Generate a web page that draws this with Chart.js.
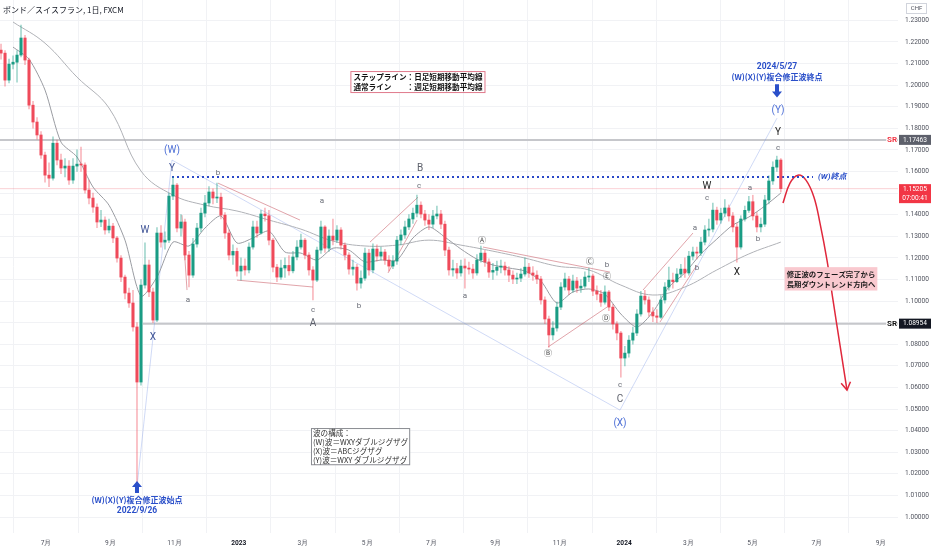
<!DOCTYPE html>
<html>
<head>
<meta charset="utf-8">
<title>ポンド／スイスフラン, 1日</title>
<script src="https://cdn.jsdelivr.net/npm/chart.js"></script>
<style>
  html, body { margin: 0; padding: 0; background: #fff; }
  #wrap { width: 932px; height: 550px; }
</style>
</head>
<body>
<div id="wrap"><canvas id="chart" width="932" height="550"></canvas></div>
<script>
// x = 月 (0 = 2022年1月)。ローソク足は startMonth から stepMonth ごと
const startMonth = 4.6;
const stepMonth = 0.1245;
const firstOpen = 1.2162;

const closes = [
  1.2148, 1.2023, 1.2097, 1.2106, 1.2139, 1.2218, 1.2116, 1.1907, 1.1829, 1.1769,
  1.1676, 1.1583, 1.1569, 1.1731, 1.1653, 1.1616, 1.1625, 1.1560, 1.1625, 1.1634,
  1.1630, 1.1514, 1.1477, 1.1435, 1.1366, 1.1375, 1.1329, 1.1347, 1.1292, 1.1199,
  1.1111, 1.1037, 1.0991, 1.0880, 1.0625, 1.1074, 1.1167, 1.1042, 1.0912, 1.1315,
  1.1273, 1.1282, 1.1486, 1.1537, 1.1338, 1.1366, 1.1213, 1.1120, 1.1264, 1.1338,
  1.1407, 1.1454, 1.1505, 1.1477, 1.1481, 1.1398, 1.1315, 1.1213, 1.1230, 1.1139,
  1.1162, 1.1144, 1.1250, 1.1343, 1.1315, 1.1403, 1.1395, 1.1282, 1.1157, 1.1111,
  1.1153, 1.1165, 1.1140, 1.1204, 1.1250, 1.1282, 1.1213, 1.1144, 1.1097, 1.1236,
  1.1343, 1.1245, 1.1301, 1.1282, 1.1329, 1.1259, 1.1213, 1.1148, 1.1157, 1.1083,
  1.1106, 1.1222, 1.1144, 1.1241, 1.1208, 1.1227, 1.1190, 1.1162, 1.1185, 1.1282,
  1.1306, 1.1343, 1.1380, 1.1407, 1.1444, 1.1403, 1.1375, 1.1356, 1.1394, 1.1403,
  1.1356, 1.1236, 1.1144, 1.1150, 1.1130, 1.1162, 1.1153, 1.1148, 1.1130, 1.1190,
  1.1222, 1.1181, 1.1134, 1.1142, 1.1157, 1.1162, 1.1144, 1.1120, 1.1102, 1.1106,
  1.1125, 1.1157, 1.1130, 1.1120, 1.1102, 1.1005, 1.0917, 1.0843, 1.0875, 1.0972,
  1.1065, 1.1102, 1.1051, 1.1093, 1.1060, 1.1069, 1.1111, 1.1116, 1.1046, 1.1032,
  1.0995, 1.1042, 1.0972, 1.0894, 1.0852, 1.0736, 1.0759, 1.0819, 1.0852, 1.0940,
  1.1023, 1.1005, 1.0949, 1.0931, 1.0925, 1.1005, 1.1065, 1.1097, 1.1090, 1.1125,
  1.1148, 1.1130, 1.1208, 1.1227, 1.1222, 1.1273, 1.1329, 1.1333, 1.1421, 1.1375,
  1.1407, 1.1431, 1.1394, 1.1343, 1.1250, 1.1380, 1.1420, 1.1460, 1.1394, 1.1343,
  1.1356, 1.1468, 1.1556, 1.1620, 1.1653, 1.15205
];
const highs = [
  1.2190, 1.2160, 1.2120, 1.2135, 1.2160, 1.2278, 1.2230, 1.2125, 1.1925, 1.1850,
  1.1785, 1.1690, 1.1640, 1.1760, 1.1745, 1.1680, 1.1660, 1.1650, 1.1660, 1.1700,
  1.1713, 1.1640, 1.1560, 1.1500, 1.1450, 1.1420, 1.1390, 1.1380, 1.1360, 1.1300,
  1.1210, 1.1120, 1.1060, 1.1050, 1.0900, 1.1100, 1.1270, 1.1190, 1.1060, 1.1340,
  1.1350, 1.1320, 1.1500, 1.1574, 1.1545, 1.1400, 1.1380, 1.1230, 1.1290, 1.1360,
  1.1430, 1.1490, 1.1530, 1.1520, 1.1546, 1.1500, 1.1410, 1.1330, 1.1260, 1.1245,
  1.1200, 1.1195, 1.1270, 1.1370, 1.1370, 1.1420, 1.1430, 1.1420, 1.1290, 1.1170,
  1.1190, 1.1200, 1.1210, 1.1230, 1.1280, 1.1310, 1.1290, 1.1225, 1.1160, 1.1250,
  1.1370, 1.1350, 1.1330, 1.1380, 1.1350, 1.1340, 1.1270, 1.1225, 1.1190, 1.1170,
  1.1140, 1.1245, 1.1240, 1.1265, 1.1260, 1.1250, 1.1240, 1.1210, 1.1210, 1.1300,
  1.1330, 1.1370, 1.1400, 1.1430, 1.1491, 1.1460, 1.1420, 1.1400, 1.1420, 1.1440,
  1.1420, 1.1370, 1.1250, 1.1190, 1.1175, 1.1190, 1.1195, 1.1180, 1.1170, 1.1215,
  1.1255, 1.1235, 1.1195, 1.1175, 1.1185, 1.1190, 1.1180, 1.1160, 1.1140, 1.1130,
  1.1150, 1.1200, 1.1175, 1.1160, 1.1140, 1.1115, 1.1020, 1.0930, 1.0905, 1.0995,
  1.1085, 1.1130, 1.1115, 1.1120, 1.1110, 1.1100, 1.1135, 1.1153, 1.1125, 1.1070,
  1.1050, 1.1070, 1.1050, 1.0985, 1.0905, 1.0860, 1.0790, 1.0840, 1.0880, 1.0960,
  1.1045, 1.1050, 1.1020, 1.0970, 1.0960, 1.1025, 1.1085, 1.1157, 1.1130, 1.1150,
  1.1170, 1.1200, 1.1230, 1.1250, 1.1250, 1.1295, 1.1350, 1.1380, 1.1454, 1.1435,
  1.1430, 1.1470, 1.1445, 1.1410, 1.1360, 1.1395, 1.1440, 1.1485, 1.1490, 1.1410,
  1.1385, 1.1490, 1.1580, 1.1645, 1.1671, 1.1660
];
const lows = [
  1.2120, 1.1995, 1.2010, 1.2075, 1.2014, 1.2130, 1.2095, 1.1890, 1.1800, 1.1750,
  1.1660, 1.1550, 1.1530, 1.1560, 1.1630, 1.1590, 1.1575, 1.1540, 1.1545, 1.1600,
  1.1600, 1.1500, 1.1450, 1.1410, 1.1340, 1.1345, 1.1310, 1.1315, 1.1270, 1.1180,
  1.1090, 1.1010, 1.0970, 1.0860, 1.0139, 1.0610, 1.1060, 1.1020, 1.0900, 1.0905,
  1.1250, 1.1240, 1.1270, 1.1470, 1.1320, 1.1300, 1.1190, 1.1065, 1.1110, 1.1250,
  1.1320, 1.1390, 1.1440, 1.1450, 1.1455, 1.1380, 1.1290, 1.1190, 1.1170, 1.1115,
  1.1097, 1.1120, 1.1130, 1.1240, 1.1295, 1.1310, 1.1370, 1.1260, 1.1135, 1.1090,
  1.1100, 1.1110, 1.1120, 1.1130, 1.1190, 1.1240, 1.1195, 1.1120, 1.1005, 1.1090,
  1.1220, 1.1225, 1.1230, 1.1260, 1.1270, 1.1240, 1.1190, 1.1125, 1.1120, 1.1050,
  1.1060, 1.1095, 1.1120, 1.1130, 1.1185, 1.1190, 1.1170, 1.1140, 1.1150, 1.1170,
  1.1260, 1.1290, 1.1330, 1.1360, 1.1390, 1.1385, 1.1350, 1.1330, 1.1340, 1.1380,
  1.1335, 1.1210, 1.1120, 1.1115, 1.1105, 1.1115, 1.1060, 1.1125, 1.1105, 1.1120,
  1.1180, 1.1160, 1.1110, 1.1100, 1.1120, 1.1130, 1.1120, 1.1090, 1.1080, 1.1080,
  1.1090, 1.1115, 1.1110, 1.1095, 1.1080, 1.0985, 1.0895, 1.0787, 1.0820, 1.0860,
  1.0960, 1.1050, 1.1030, 1.1040, 1.1040, 1.1040, 1.1060, 1.1090, 1.1025, 1.1005,
  1.0975, 1.0985, 1.0955, 1.0870, 1.0820, 1.0648, 1.0700, 1.0740, 1.0800, 1.0840,
  1.0930, 1.0985, 1.0930, 1.0905, 1.0900, 1.0920, 1.0990, 1.1050, 1.1060, 1.1085,
  1.1110, 1.1110, 1.1120, 1.1190, 1.1195, 1.1210, 1.1260, 1.1300, 1.1320, 1.1355,
  1.1360, 1.1390, 1.1370, 1.1320, 1.1180, 1.1240, 1.1370, 1.1410, 1.1375, 1.1320,
  1.1320, 1.1345, 1.1450, 1.1540, 1.1600, 1.1505
];

// 移動平均線（チャートから読み取り）: 足 3 から 4 本ごと / 8 本ごと
const stepMa = [
  1.2176, 1.2120, 1.1977, 1.1736, 1.1667, 1.1528, 1.1444, 1.1282, 1.1023, 1.1111,
  1.1273, 1.1255, 1.1338, 1.1394, 1.1269, 1.1292, 1.1324, 1.1227, 1.1222, 1.1190,
  1.1245, 1.1236, 1.1181, 1.1190, 1.1190, 1.1292, 1.1343, 1.1296, 1.1241, 1.1194,
  1.1167, 1.1153, 1.1139, 1.1093, 1.0991, 1.1042, 1.1056, 1.1032, 1.0940, 1.0880,
  1.0949, 1.1065, 1.1130, 1.1218, 1.1287, 1.1352, 1.1389, 1.1440, 1.1500
];
const weekMa = [
  1.2292, 1.2194, 1.2037, 1.1894, 1.1602, 1.1491, 1.1444, 1.1417, 1.1375, 1.1333,
  1.1278, 1.1255, 1.1259, 1.1282, 1.1259, 1.1231, 1.1199, 1.1162, 1.1144, 1.1074,
  1.1028, 1.1065, 1.1144, 1.1218, 1.1273
];

const monthTicks = [6, 8, 10, 12, 14, 16, 18, 20, 22, 24, 26, 28, 30, 32];
const monthLabels = ['7月', '9月', '11月', '2023', '3月', '5月', '7月', '9月', '11月', '2024', '3月', '5月', '7月', '9月'];
const priceTicks = [1.00, 1.01, 1.02, 1.03, 1.04, 1.05, 1.06, 1.07, 1.08, 1.09, 1.10, 1.11,
  1.12, 1.13, 1.14, 1.15, 1.16, 1.17, 1.18, 1.19, 1.20, 1.21, 1.22, 1.23];

const srHigh = 1.17463;
const srLow = 1.08954;
const lastPrice = 1.15205;
const wEndLevel = 1.1574;

// 波動のライン
const wxyPath = [[8.833, 1.0139], [9.923, 1.1653], [23.870, 1.0495], [28.759, 1.1847]];
const subLines = [
  [[10.234, 1.1398], [10.390, 1.1051]],
  [[11.355, 1.1546], [13.908, 1.1375]],
  [[11.946, 1.1097], [14.313, 1.1065]],
  [[16.087, 1.1273], [17.582, 1.1481]],
  [[16.648, 1.1130], [17.551, 1.1375]],
  [[19.605, 1.1250], [23.559, 1.1134]],
  [[21.629, 1.0787], [23.466, 1.0972]],
  [[24.587, 1.1051], [26.143, 1.1315]],
  [[25.116, 1.0903], [26.268, 1.1167]]
];
const curvePts = [
  [28.945, 1.1454], [29.163, 1.1546], [29.412, 1.1583], [29.661, 1.1560], [29.910, 1.1481],
  [30.097, 1.1361], [30.315, 1.1190], [30.502, 1.1005], [30.720, 1.0796], [30.938, 1.0588]
];

const waveLabels = [
  [9.923, 1.1699, '(W)', 'B'], [9.923, 1.1616, 'Y', 'D'], [9.082, 1.1329, 'W', 'D'],
  [9.331, 1.0833, 'X', 'D'], [10.421, 1.1005, 'a', 's'], [11.355, 1.1593, 'b', 's'],
  [14.313, 1.0958, 'c', 's'], [14.313, 1.0898, 'A', 'C'], [14.593, 1.1463, 'a', 's'],
  [15.745, 1.0977, 'b', 's'], [17.644, 1.1616, 'B', 'C'], [17.613, 1.1532, 'c', 's'],
  [19.045, 1.1023, 'a', 's'], [19.574, 1.1282, 'Ⓐ', 'O'], [21.629, 1.0759, 'Ⓑ', 'O'],
  [22.936, 1.1185, 'Ⓒ', 'O'], [23.466, 1.1167, 'b', 's'], [23.466, 1.1116, 'Ⓔ', 'O'],
  [23.435, 1.0921, 'Ⓓ', 'O'], [23.870, 1.0611, 'c', 's'], [23.870, 1.0542, 'C', 'C'],
  [23.870, 1.0435, '(X)', 'B'], [26.206, 1.1338, 'a', 's'], [26.268, 1.1153, 'b', 's'],
  [26.579, 1.1477, 'c', 's'], [26.579, 1.1532, 'W', 'K'], [27.918, 1.1523, 'a', 's'],
  [28.167, 1.1287, 'b', 's'], [27.513, 1.1130, 'X', 'K'], [28.790, 1.1782, 'Y', 'K'],
  [28.790, 1.1708, 'c', 's'], [28.790, 1.1884, '(Y)', 'B']
];
const labelStyle = {
  s: { font: '8px Roboto, "Noto Sans CJK JP"', color: '#6b6e78' },
  C: { font: '10px Roboto, "Noto Sans CJK JP"', color: '#5d606b' },
  D: { font: '10px Roboto, "Noto Sans CJK JP"', color: '#3f5396' },
  K: { font: '10px Roboto, "Noto Sans CJK JP"', color: '#222' },
  B: { font: '10px Roboto, "Noto Sans CJK JP"', color: '#4d6fd6' },
  O: { font: '8.5px "Noto Sans CJK JP"', color: '#555' }
};

const legendLines = ['ステップライン：日足短期移動平均線', '通常ライン　　：週足短期移動平均線'];
const waveNoteLines = ['波の構成：', '(W)波＝WXYダブルジグザグ', '(X)波＝ABCジグザグ', '(Y)波＝WXY ダブルジグザグ'];
const outlookLines = ['修正波のフェーズ完了から', '長期ダウントレンド方向へ'];

const barX = i => startMonth + i * stepMonth;
const opens = closes.map((c, i) => i === 0 ? firstOpen : closes[i - 1]);
const upCol = '#1a9c84', downCol = '#ef4a5a';

const bodies = closes.map((c, i) => ({ x: barX(i), y: [opens[i], c] }));
const wicks = closes.map((c, i) => ({ x: barX(i), y: [lows[i], highs[i]] }));
const bodyColors = closes.map((c, i) => c >= opens[i] ? upCol : downCol);
const wickColors = closes.map((c, i) => c >= opens[i] ? 'rgba(26,156,132,0.4)' : 'rgba(239,74,90,0.4)');

const xMin = 4.568, xMax = 32.526;
const pts = arr => arr.map(([x, y]) => ({ x, y }));

const datasets = [
  { type: 'bar', data: bodies, backgroundColor: bodyColors, barThickness: 2.4, grouped: false, minBarLength: 1, order: 0 },
  { type: 'bar', data: wicks, backgroundColor: wickColors, barThickness: 1, grouped: false, order: 1 },
  { type: 'line', data: stepMa.map((v, k) => ({ x: barX(3 + 4 * k), y: v })), tension: 0.25,
    borderColor: '#9a9ca2', borderWidth: 1, pointRadius: 0, order: 3 },
  { type: 'line', data: weekMa.map((v, k) => ({ x: barX(3 + 8 * k), y: v })), tension: 0.4,
    borderColor: '#b0b2b7', borderWidth: 1, pointRadius: 0, order: 3 },
  { type: 'line', data: [{ x: xMin, y: lastPrice }, { x: xMax, y: lastPrice }],
    borderColor: 'rgba(239,74,90,0.25)', borderWidth: 1, pointRadius: 0, order: 6 },
  { type: 'line', data: [{ x: xMin, y: srHigh }, { x: xMax, y: srHigh }],
    borderColor: '#c6c7cb', borderWidth: 2, pointRadius: 0, order: 5 },
  { type: 'line', data: [{ x: 9.020, y: srLow }, { x: xMax, y: srLow }],
    borderColor: '#c6c7cb', borderWidth: 2, pointRadius: 0, order: 5 },
  { type: 'line', data: [{ x: 9.923, y: wEndLevel }, { x: 29.879, y: wEndLevel }],
    borderColor: '#2a48c8', borderWidth: 2, borderDash: [2, 3], pointRadius: 0, order: 2 },
  { type: 'line', data: pts(wxyPath), borderColor: 'rgba(120,150,230,0.35)', borderWidth: 1,
    pointRadius: 0, order: 4 },
  ...subLines.map(seg => ({ type: 'line', data: pts(seg), borderColor: 'rgba(200,90,100,0.55)',
    borderWidth: 1, pointRadius: 0, order: 4 })),
  { type: 'line', data: pts(curvePts), borderColor: '#e0283c', borderWidth: 1.5, tension: 0.4,
    pointRadius: 0, order: 2 }
];

function blockArrow(ctx, cx, yTail, yTip, color) {
  const dir = yTip > yTail ? 1 : -1;
  const headLen = 6, headW = 5, shaftW = 2;
  const yNeck = yTip - dir * headLen;
  ctx.fillStyle = color;
  ctx.beginPath();
  ctx.moveTo(cx - shaftW, yTail);
  ctx.lineTo(cx + shaftW, yTail);
  ctx.lineTo(cx + shaftW, yNeck);
  ctx.lineTo(cx + headW, yNeck);
  ctx.lineTo(cx, yTip);
  ctx.lineTo(cx - headW, yNeck);
  ctx.lineTo(cx - shaftW, yNeck);
  ctx.closePath();
  ctx.fill();
}

function textBox(ctx, lines, x, top, o) {
  ctx.font = o.font;
  const w = Math.max(...lines.map(t => ctx.measureText(t).width)) + o.pad * 2;
  const h = lines.length * o.lineH + o.padY * 2;
  const left = o.align === 'center' ? x - w / 2 : x;
  if (o.bg) { ctx.fillStyle = o.bg; ctx.fillRect(left, top, w, h); }
  if (o.border) { ctx.strokeStyle = o.border; ctx.lineWidth = 1; ctx.strokeRect(left + 0.5, top + 0.5, w - 1, h - 1); }
  ctx.fillStyle = o.color;
  ctx.textBaseline = 'middle';
  ctx.textAlign = o.textAlign;
  lines.forEach((t, i) => {
    const tx = o.textAlign === 'center' ? left + w / 2 : left + o.pad;
    ctx.fillText(t, tx, top + o.padY + o.lineH * (i + 0.5));
  });
}

const overlay = {
  id: 'overlay',
  afterDatasetsDraw(chart) {
    const { ctx, scales: { x, y } } = chart;
    const px = m => x.getPixelForValue(m), py = v => y.getPixelForValue(v);
    ctx.save();
    ctx.textAlign = 'center';
    ctx.textBaseline = 'middle';
    waveLabels.forEach(([m, v, t, k]) => {
      ctx.font = labelStyle[k].font;
      ctx.fillStyle = labelStyle[k].color;
      ctx.fillText(t, px(m), py(v));
    });

    // 赤い曲線の矢じり
    const [a, b] = curvePts.slice(-2);
    const ax = px(a[0]), ay = py(a[1]), bx = px(b[0]), by = py(b[1]);
    const ang = Math.atan2(by - ay, bx - ax);
    ctx.strokeStyle = '#e0283c';
    ctx.lineWidth = 1.5;
    ctx.beginPath();
    ctx.moveTo(bx - 9 * Math.cos(ang - 0.55), by - 9 * Math.sin(ang - 0.55));
    ctx.lineTo(bx, by);
    ctx.lineTo(bx - 9 * Math.cos(ang + 0.55), by - 9 * Math.sin(ang + 0.55));
    ctx.stroke();

    // 終点・始点の注記
    const blue = '#2a4fc9';
    ctx.fillStyle = blue;
    ctx.font = 'bold 8.5px Roboto, "Noto Sans CJK JP"';
    ctx.textAlign = 'center';
    ctx.fillText('2024/5/27', px(28.759), py(1.2083));
    ctx.font = 'bold 8px "Noto Sans CJK JP"';
    ctx.fillText('(W)(X)(Y)複合修正波終点', px(28.759), py(1.2037));
    blockArrow(ctx, px(28.759), py(1.2004), py(1.1942), blue);
    blockArrow(ctx, px(8.833), py(1.0111), py(1.0167), blue);
    ctx.fillStyle = blue;
    ctx.font = 'bold 8px "Noto Sans CJK JP"';
    ctx.fillText('(W)(X)(Y)複合修正波始点', px(8.833), py(1.0079));
    ctx.font = 'bold 8.5px Roboto, "Noto Sans CJK JP"';
    ctx.fillText('2022/9/26', px(8.833), py(1.0028));

    ctx.font = 'italic bold 8px Roboto, "Noto Sans CJK JP"';
    ctx.textAlign = 'left';
    ctx.fillText('(W)終点', px(30.035), py(wEndLevel));

    textBox(ctx, legendLines, px(17.58), py(1.2065), {
      font: 'bold 7.6px "Noto Sans CJK JP"', pad: 3, padY: 1.5, lineH: 9.5,
      bg: '#fff', border: '#e07a8c', color: '#111', align: 'center', textAlign: 'left'
    });
    textBox(ctx, waveNoteLines, px(14.25), py(1.0412), {
      font: '7.6px "Noto Sans CJK JP"', pad: 2, padY: 1, lineH: 8.8,
      bg: '#fff', border: '#8a8c92', color: '#333', align: 'left', textAlign: 'left'
    });
    textBox(ctx, outlookLines, px(30.44), py(1.1157), {
      font: 'bold 7.4px "Noto Sans CJK JP"', pad: 2, padY: 1.5, lineH: 10.2,
      bg: '#f9c9cf', border: null, color: '#1a1a1a', align: 'center', textAlign: 'center'
    });
    ctx.restore();
  },
  afterDraw(chart) {
    const { ctx, scales: { x, y } } = chart;
    const px = m => x.getPixelForValue(m), py = v => y.getPixelForValue(v);
    ctx.save();
    // タイトル
    ctx.font = '8px "Noto Sans CJK JP"';
    ctx.fillStyle = '#131722';
    ctx.textAlign = 'left';
    ctx.textBaseline = 'middle';
    ctx.fillText('ポンド／スイスフラン, 1日, FXCM', 3, 10);

    // SR ラベル
    [[srHigh, '#f23645'], [srLow, '#111']].forEach(([v, col]) => {
      const yy = py(v);
      ctx.fillStyle = '#fff';
      ctx.fillRect(px(32.16), yy - 5, 11, 10);
      ctx.font = 'bold 8px Roboto';
      ctx.fillStyle = col;
      ctx.textAlign = 'center';
      ctx.fillText('SR', px(32.34), yy + 0.5);
    });

    // 価格スケール上のバッジ
    const ax = y.left + 1, aw = y.width - 2;
    const badge = (v, bg, lines, h) => {
      const yy = py(v);
      const top = lines.length > 1 ? yy - 4.5 : yy - h / 2;
      ctx.fillStyle = bg;
      ctx.fillRect(ax, top, aw, h);
      ctx.fillStyle = '#fff';
      ctx.font = '6.6px Roboto';
      ctx.textAlign = 'center';
      lines.forEach((t, i) => ctx.fillText(t, ax + aw / 2, top + 5 + i * 9));
    };
    badge(srHigh, '#5d606b', [srHigh.toFixed(5)], 10);
    badge(srLow, '#131722', [srLow.toFixed(5)], 10);
    badge(lastPrice, '#f23645', [lastPrice.toFixed(5), '07:00:41'], 19);

    // 通貨表示
    ctx.strokeStyle = '#d1d4dc';
    ctx.lineWidth = 1;
    ctx.strokeRect(y.left + 8.5, 3.5, 20, 10);
    ctx.fillStyle = '#50535e';
    ctx.font = '6px Roboto';
    ctx.fillText('CHF', y.left + 18.5, 8.8);
    ctx.restore();
  }
};

new Chart(document.getElementById('chart'), {
  type: 'bar',
  data: { datasets },
  options: {
    responsive: false,
    animation: false,
    events: [],
    layout: { padding: 0 },
    plugins: { legend: { display: false }, tooltip: { enabled: false } },
    scales: {
      x: {
        type: 'linear', min: xMin, max: xMax, offset: false,
        afterBuildTicks: s => { s.ticks = monthTicks.map(v => ({ value: v })); },
        afterFit: s => { s.height = 17; s.paddingLeft = 0; s.paddingRight = 0; },
        ticks: {
          autoSkip: false, maxRotation: 0, padding: 6,
          callback: (v, i) => monthLabels[i],
          color: c => /^\d{4}$/.test(monthLabels[c.index]) ? '#131722' : '#50535e',
          font: c => ({ family: 'Roboto', size: 6.6, weight: /^\d{4}$/.test(monthLabels[c.index]) ? 'bold' : 'normal' })
        },
        grid: { color: '#f1f2f5', drawTicks: false },
        border: { display: false }
      },
      y: {
        position: 'right', min: 0.9926, max: 1.2394,
        afterBuildTicks: s => { s.ticks = priceTicks.map(v => ({ value: v })); },
        afterFit: s => { s.width = 34; s.paddingTop = 0; s.paddingBottom = 0; },
        ticks: {
          padding: 7, color: '#50535e', font: { family: 'Roboto', size: 6.6 },
          callback: v => Number(v).toFixed(5)
        },
        grid: { color: '#f1f2f5', drawTicks: false },
        border: { display: false }
      }
    }
  },
  plugins: [overlay]
});
</script>
</body>
</html>
